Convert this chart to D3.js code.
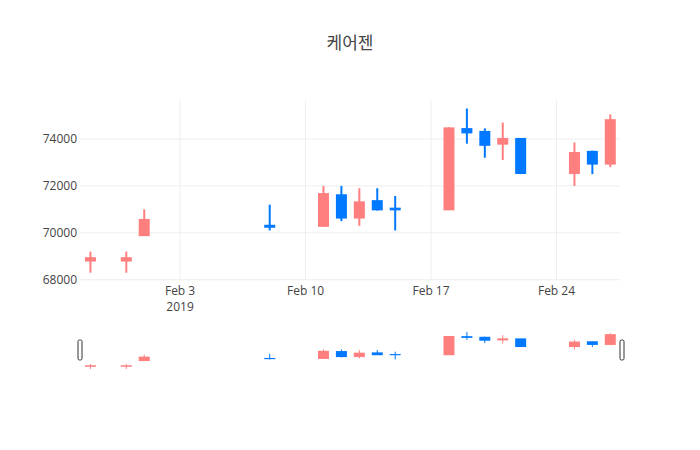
<!DOCTYPE html>
<html><head><meta charset="utf-8">
<script src="https://cdn.jsdelivr.net/npm/d3@7"></script>
<style>body{margin:0;background:#fff}text{font-family:"Open Sans","Noto Sans CJK KR",sans-serif}</style>
</head><body><svg id="c" width="700" height="450"></svg>
<script>
const dates=["2019-01-29","2019-01-31","2019-02-01","2019-02-08","2019-02-11","2019-02-12","2019-02-13","2019-02-14","2019-02-15","2019-02-18","2019-02-19","2019-02-20","2019-02-21","2019-02-22","2019-02-25","2019-02-26","2019-02-27"];
const open =[68820,68820,69900,70300,70300,71600,70650,71350,71030,71000,74420,74300,73800,74000,72550,73450,72950];
const close=[68920,68920,70550,70260,71650,70650,71300,71000,71000,74450,74280,73750,74000,72550,73400,72950,74800];
const high =[69200,69200,71000,71200,72000,72000,71900,71900,71570,74500,75300,74450,74700,74000,73850,73500,75050];
const low  =[68300,68300,69900,70100,70250,70500,70300,70950,70100,71000,73800,73200,73100,72500,72000,72500,72800];
const yTicks=[68000,70000,72000,74000];
const title="케어젠";
const UP="#ff7f7f", DOWN="#0078ff";
const parse=d3.utcParse("%Y-%m-%d");
const data=dates.map((d,i)=>({t:parse(d),o:open[i],c:close[i],h:high[i],l:low[i]}));
const svg=d3.select("#c");
const x=d3.scaleUtc().domain([new Date(Date.UTC(2019,0,28,10)),new Date(Date.UTC(2019,1,27,13))]).range([80,620]);
const y=d3.scaleLinear().domain([67990,75660]).range([280,100]);
const ys=d3.scaleLinear().domain([68300,75300]).range([369,332]);
svg.append("text").attr("x",350).attr("y",49).attr("text-anchor","middle").attr("font-size",17).attr("fill","#444").text(title);
const xt=[parse("2019-02-03"),parse("2019-02-10"),parse("2019-02-17"),parse("2019-02-24")];
svg.append("g").selectAll("line").data(xt).join("line").attr("x1",d=>x(d)).attr("x2",d=>x(d)).attr("y1",100).attr("y2",280).attr("stroke","#eee");
svg.append("g").selectAll("line").data(yTicks).join("line").attr("x1",80).attr("x2",620).attr("y1",d=>y(d)).attr("y2",d=>y(d)).attr("stroke","#eee");
svg.append("g").selectAll("text").data(yTicks).join("text").attr("x",77).attr("y",d=>y(d)+4).attr("text-anchor","end").attr("font-size",12).attr("fill","#444").text(d=>d);
const fmt=d3.utcFormat("%b %-d");
svg.append("g").selectAll("text").data(xt).join("text").attr("x",d=>x(d)).attr("y",295).attr("text-anchor","middle").attr("font-size",12).attr("fill","#444").text(fmt);
svg.append("text").attr("x",x(xt[0])).attr("y",311).attr("text-anchor","middle").attr("font-size",12).attr("fill","#444").text("2019");
function candles(g,ys,w,lw){
  const gg=g.selectAll("g").data(data).join("g");
  gg.append("line").attr("x1",d=>x(d.t)).attr("x2",d=>x(d.t)).attr("y1",d=>ys(d.h)).attr("y2",d=>ys(d.l)).attr("stroke",d=>d.c>=d.o?UP:DOWN).attr("stroke-width",lw);
  gg.append("rect").attr("x",d=>x(d.t)-w/2).attr("width",w).attr("y",d=>ys(Math.max(d.o,d.c))-lw/2).attr("height",d=>Math.abs(ys(d.o)-ys(d.c))+lw)
    .attr("fill",d=>d.c>=d.o?UP:DOWN);
}
candles(svg.append("g"),y,11,2);
candles(svg.append("g"),ys,11,1);
[78,620].forEach(hx=>svg.append("rect").attr("x",hx).attr("y",340).attr("width",4).attr("height",20).attr("rx",1.5).attr("fill","#fff").attr("stroke","#333").attr("stroke-width",1));
</script></body></html>
